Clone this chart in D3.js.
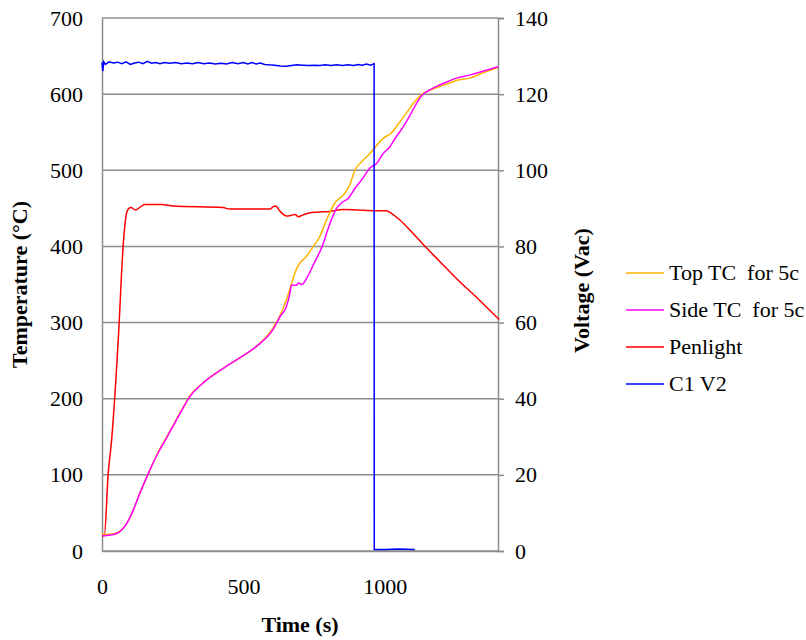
<!DOCTYPE html>
<html>
<head>
<meta charset="utf-8">
<script src="https://cdn.jsdelivr.net/npm/d3@7"></script>
<style>
  body { margin: 0; background: #fff; }
  svg { display: block; }
  svg text { font-family: "Liberation Serif", "Times New Roman", "DejaVu Serif", serif; fill: #000; }
</style>
</head>
<body>
<svg id="chart" width="806" height="640"></svg>
<script>
// ---- data (time s, value) ----
const seriesNames = ["Top TC  for 5c", "Side TC  for 5c", "Penlight", "C1 V2"];
const seriesColors = ["#FFB400", "#FF00FF", "#FF0000", "#0000FF"];

const topTC = [[0,22],[30,22],[52,24],[70,28],[87,36],[111,54],[134,76],[164,102],[200,131],[229,150],[260,171],[290,191],[311,204],[352,219],[429,240],[488,254],[547,269],[605,293],[630,310],[647,325],[665,345],[682,365],[694,375],[723,387],[747,400],[770,413],[794,435],[823,457],[859,470],[876,481],[894,500],[920,512],[947,522],[994,542],[1023,549],[1050,562],[1076,575],[1105,590],[1135,601],[1165,606],[1194,610],[1225,614],[1253,618],[1300,621],[1347,628],[1400,635]];

const sideTC = [[0,20],[30,21],[52,23],[70,28],[87,36],[111,54],[134,76],[164,102],[200,130],[229,149],[260,170],[290,190],[311,203],[352,219],[429,240],[488,254],[547,269],[605,291],[630,308],[652,321],[664,338],[670,349],[688,349],[694,352],[706,350],[729,362],[750,378],[776,398],[806,430],[829,450],[850,458],[870,463],[894,476],[923,490],[947,503],[971,509],[994,522],[1018,531],[1040,544],[1065,557],[1090,573],[1112,588],[1130,598],[1147,603],[1170,608],[1194,612],[1225,617],[1253,621],[1300,625],[1347,630],[1400,636]];

const penlight = [[0,20],[8,20],[22,102],[34,146],[58,281],[75,402],[87,444],[95,450],[102,451],[119,448],[140,453],[152,455],[211,455],[251,453],[428,451],[452,449],[594,449],[604,452],[614,453],[630,446],[652,440],[670,441],[682,442],[695,439],[702,440],[723,443],[758,445],[806,446],[852,448.5],[900,448],[965,447],[1006,447],[1023,443.5],[1053,434.7],[1095,419],[1135,403],[1195,380],[1253,358],[1330,331],[1404,304]];

const c1v2 = [[0,128.3],[3,126.0],[6,128.5],[12,127.8],[25,128.5],[40,128.2],[55,128.4],[70,128.0],[85,128.5],[100,127.8],[115,128.2],[130,128.4],[145,128.0],[160,128.6],[175,128.1],[190,128.3],[205,128.0],[220,128.3],[240,128.1],[260,128.3],[280,128.0],[300,128.2],[320,128.0],[340,128.3],[360,128.0],[380,128.2],[400,127.9],[420,128.1],[440,127.9],[460,128.3],[480,128.0],[500,128.3],[515,127.9],[530,128.3],[545,127.9],[560,128.2],[575,127.8],[590,127.7],[610,127.6],[630,127.4],[650,127.3],[670,127.5],[690,127.7],[710,127.6],[730,127.5],[750,127.6],[770,127.5],[790,127.7],[810,127.5],[830,127.7],[850,127.5],[870,127.7],[890,127.5],[905,127.8],[920,127.6],[935,127.9],[950,127.6],[962,128.0],[962.5,0.4],[1000,0.4],[1050,0.5],[1106,0.4]];

const xTicks = [0, 500, 1000];
const yTicks = [0, 100, 200, 300, 400, 500, 600, 700];
const y2Ticks = [0, 20, 40, 60, 80, 100, 120, 140];

// ---- layout ----
const svg = d3.select("#chart");
const L = 102, R = 498, T = 18, B = 551;
const x = d3.scaleLinear().domain([0, 1400]).range([L, R]);
const y = d3.scaleLinear().domain([0, 700]).range([B, T]);
const y2 = d3.scaleLinear().domain([0, 140]).range([B, T]);
const gridColor = "#8c8c8c";
const fmt = d3.format("d");

// gridlines
svg.append("g").selectAll("line").data(yTicks).join("line")
  .attr("x1", L).attr("x2", R)
  .attr("y1", d => y(d)).attr("y2", d => y(d))
  .attr("stroke", gridColor).attr("stroke-width", 1.5);

function styleAxis(g) {
  g.attr("font-family", null).attr("font-size", null);
  g.select(".domain").attr("stroke", gridColor).attr("stroke-width", 1.5);
  g.selectAll(".tick line").attr("stroke", gridColor).attr("stroke-width", 1.5);
  g.selectAll("text").style("font-size", "22px").attr("fill", "#000");
}

// left axis
svg.append("g").attr("transform", `translate(${L},0)`)
  .call(d3.axisLeft(y).tickValues(yTicks).tickFormat(fmt).tickSize(0).tickPadding(19))
  .call(styleAxis);

// right axis
svg.append("g").attr("transform", `translate(${R},0)`)
  .call(d3.axisRight(y2).tickValues(y2Ticks).tickFormat(fmt).tickSize(6).tickPadding(11))
  .call(styleAxis);

// bottom axis
svg.append("g").attr("transform", `translate(0,${B})`)
  .call(d3.axisBottom(x).tickValues(xTicks).tickFormat(fmt).tickSize(0).tickPadding(27))
  .call(styleAxis);

// series
const lineT = d3.line().x(d => x(d[0])).y(d => y(d[1])).curve(d3.curveMonotoneX);
const lineV = d3.line().x(d => x(d[0])).y(d => y2(d[1])).curve(d3.curveLinear);

svg.append("path").datum(penlight).attr("d", lineT)
  .attr("fill", "none").attr("stroke", seriesColors[2]).attr("stroke-width", 1.5);
svg.append("path").datum(topTC).attr("d", lineT)
  .attr("fill", "none").attr("stroke", seriesColors[0]).attr("stroke-width", 1.5);
svg.append("path").datum(sideTC).attr("d", lineT)
  .attr("fill", "none").attr("stroke", seriesColors[1]).attr("stroke-width", 1.5);
svg.append("path").datum(c1v2).attr("d", lineV)
  .attr("fill", "none").attr("stroke", seriesColors[3]).attr("stroke-width", 1.5);

// axis titles
svg.append("text").attr("x", (L + R) / 2).attr("y", 632)
  .attr("text-anchor", "middle").style("font-size", "22px").attr("font-weight", "bold")
  .text("Time (s)");
svg.append("text").attr("transform", `translate(27,${(T + B) / 2}) rotate(-90)`)
  .attr("text-anchor", "middle").style("font-size", "22px").attr("font-weight", "bold")
  .text("Temperature (°C)");
svg.append("text").attr("transform", `translate(589,${(T + B) / 2 + 6}) rotate(-90)`)
  .attr("text-anchor", "middle").style("font-size", "22px").attr("font-weight", "bold")
  .text("Voltage (Vac)");

// legend
const lg = svg.append("g").selectAll("g").data(seriesNames).join("g")
  .attr("transform", (d, i) => `translate(626,${273 + i * 37})`);
lg.append("line").attr("x1", 0).attr("x2", 38).attr("y1", 0).attr("y2", 0)
  .attr("stroke", (d, i) => seriesColors[i]).attr("stroke-width", 1.5);
lg.append("text").attr("x", 43).attr("y", 0).attr("dy", "0.33em")
  .style("font-size", "22px").style("white-space", "pre")
  .text(d => d);
</script>
</body>
</html>
